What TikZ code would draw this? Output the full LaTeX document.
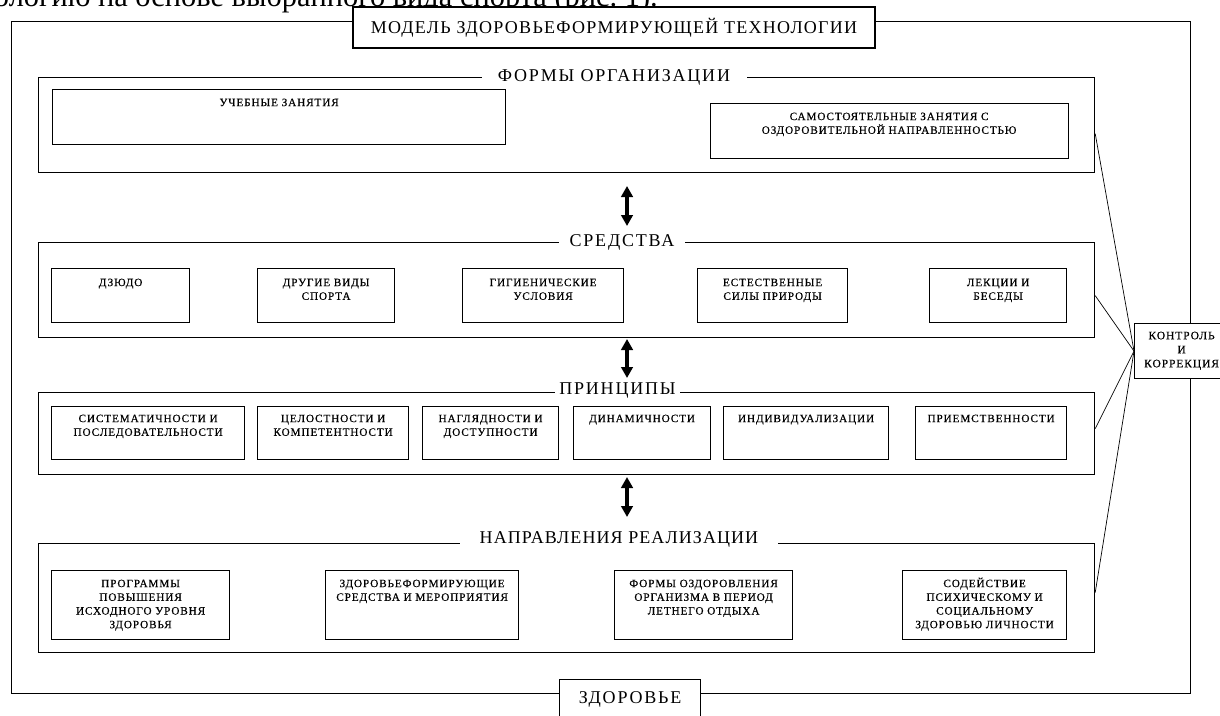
\documentclass[tikz,border=0pt]{standalone}
\usepackage{fontspec}
\setmainfont{Liberation Serif}
\newfontfamily\lsfont{Liberation Serif}[LetterSpace=8,FakeBold=0.4]
\newfontfamily\hsfont{Liberation Serif}[LetterSpace=10]
\newfontfamily\tsfont{Liberation Serif}[LetterSpace=7]
\newfontfamily\nsfont{Liberation Serif}[LetterSpace=6]
\usetikzlibrary{arrows.meta,calc}
\newcommand\boxfont{\lsfont\fontsize{11.2}{13.7}\selectfont}
\newcommand\hdrfont{\hsfont\fontsize{18}{20}\selectfont}
\newcommand\tb[4]{\parbox[c][#2pt][t]{#1pt}{\vspace*{#3pt}\centering\rule{0pt}{10pt}#4\par}}
\tikzset{
  every node/.style={inner sep=0pt},
  frame/.style={draw, line width=1.2pt, anchor=north west},
  ibox/.style={draw, line width=1.2pt, fill=white, anchor=north west, font=\boxfont},
  hdr/.style={fill=white, font=\hdrfont, inner sep=0pt, minimum height=16pt},
  conn/.style={line width=0.7pt},
  dbl/.style={line width=3.5pt, {Triangle[length=11pt,width=11.5pt]}-{Triangle[length=11pt,width=11.5pt]}},
}
\begin{document}
\begin{tikzpicture}[x={(1pt,0pt)}, y={(0pt,-1pt)}]
\useasboundingbox (0,0) rectangle (1220,715);
\clip (0,0) rectangle (1220,715);

% cut-off text line at the top
\node[anchor=base east, font=\fontsize{30.4}{34}\selectfont] (cuttext) at (658,6) {технологию на основе выбранного вида спорта (рис.~1).};

% outer frame
\node[frame, minimum width=1179.5pt, minimum height=672pt] (outer) at (10.5,21) {};
\node[draw, line width=1.2pt, fill=white, minimum width=522pt, minimum height=41pt, font=\tsfont\fontsize{18}{20}\selectfont] (title) at (614,27.5) {МОДЕЛЬ ЗДОРОВЬЕФОРМИРУЮЩЕЙ ТЕХНОЛОГИИ};
\node[ibox, font=\hdrfont] (zdorovie) at (559,679) {\tb{141}{60}{12}{ЗДОРОВЬЕ}};
\node[ibox, font=\lsfont\fontsize{11.5}{14}\selectfont] (kontrol) at (1134,323) {\tb{94}{55}{5.7}{КОНТРОЛЬ\\И\\КОРРЕКЦИЯ}};

% group frames
\node[frame, minimum width=1056pt, minimum height=95pt] (forms) at (38,77) {};
\node[frame, minimum width=1056pt, minimum height=95pt] (sred) at (38,242) {};
\node[frame, minimum width=1056pt, minimum height=82pt] (princ) at (38,392) {};
\node[frame, minimum width=1056pt, minimum height=109pt] (napr) at (38,543) {};

\node[hdr, minimum width=265pt] (formsH) at (614,77) {ФОРМЫ ОРГАНИЗАЦИИ};
\node[hdr, minimum width=126pt] (sredH) at (622,242) {СРЕДСТВА};
\node[hdr, minimum width=125pt] (princH) at (617.5,391) {ПРИНЦИПЫ};
\node[hdr, minimum width=318pt, font=\nsfont\fontsize{18}{20}\selectfont] (naprH) at (619,539) {НАПРАВЛЕНИЯ РЕАЛИЗАЦИИ};

% forms
\node[ibox] (ucheb) at (52,89) {\tb{453}{55}{6.5}{УЧЕБНЫЕ ЗАНЯТИЯ}};
\node[ibox] (samost) at (709.5,103) {\tb{358}{55}{6.5}{САМОСТОЯТЕЛЬНЫЕ ЗАНЯТИЯ С\\ОЗДОРОВИТЕЛЬНОЙ НАПРАВЛЕННОСТЬЮ}};

% means
\node[ibox] (dzudo) at (51,268) {\tb{138}{54}{7.5}{ДЗЮДО}};
\node[ibox] (drugie) at (257,268) {\tb{137}{54}{7.5}{ДРУГИЕ ВИДЫ\\СПОРТА}};
\node[ibox] (gigien) at (462,268) {\tb{161}{54}{7.5}{ГИГИЕНИЧЕСКИЕ\\УСЛОВИЯ}};
\node[ibox] (estestv) at (697,268) {\tb{150}{54}{7.5}{ЕСТЕСТВЕННЫЕ\\СИЛЫ ПРИРОДЫ}};
\node[ibox] (lekcii) at (929,268) {\tb{137}{54}{7.5}{ЛЕКЦИИ И\\БЕСЕДЫ}};

% principles
\node[ibox] (sist) at (51,406) {\tb{193}{53}{5.5}{СИСТЕМАТИЧНОСТИ И\\ПОСЛЕДОВАТЕЛЬНОСТИ}};
\node[ibox] (cel) at (257,406) {\tb{151}{53}{5.5}{ЦЕЛОСТНОСТИ И\\КОМПЕТЕНТНОСТИ}};
\node[ibox] (nagl) at (422,406) {\tb{136}{53}{5.5}{НАГЛЯДНОСТИ И\\ДОСТУПНОСТИ}};
\node[ibox] (din) at (573,406) {\tb{137}{53}{5.5}{ДИНАМИЧНОСТИ}};
\node[ibox] (ind) at (723,406) {\tb{165}{53}{5.5}{ИНДИВИДУАЛИЗАЦИИ}};
\node[ibox] (priem) at (915,406) {\tb{151}{53}{5.5}{ПРИЕМСТВЕННОСТИ}};

% directions
\node[ibox] (progr) at (51,570) {\tb{178}{69}{6.5}{ПРОГРАММЫ\\ПОВЫШЕНИЯ\\ИСХОДНОГО УРОВНЯ\\ЗДОРОВЬЯ}};
\node[ibox] (zdor) at (325,570) {\tb{193}{69}{6.5}{ЗДОРОВЬЕФОРМИРУЮЩИЕ\\СРЕДСТВА И МЕРОПРИЯТИЯ}};
\node[ibox] (ozdor) at (614,570) {\tb{178}{69}{6.5}{ФОРМЫ ОЗДОРОВЛЕНИЯ\\ОРГАНИЗМА В ПЕРИОД\\ЛЕТНЕГО ОТДЫХА}};
\node[ibox] (sodei) at (902,570) {\tb{164}{69}{6.5}{СОДЕЙСТВИЕ\\ПСИХИЧЕСКОМУ И\\СОЦИАЛЬНОМУ\\ЗДОРОВЬЮ ЛИЧНОСТИ}};

% double arrows
\coordinate (a1t) at (627,186); \coordinate (a1b) at (627,226);
\coordinate (a2t) at (627,339); \coordinate (a2b) at (627,378);
\coordinate (a3t) at (627,477); \coordinate (a3b) at (627,517);
\draw[dbl] (a1t) -- (a1b);
\draw[dbl] (a2t) -- (a2b);
\draw[dbl] (a3t) -- (a3b);

% connectors to control
\draw[conn] ($(forms.east)+(0,8.5)$) -- (kontrol.west);
\draw[conn] ($(sred.east)+(0,5.5)$) -- (kontrol.west);
\draw[conn] ($(princ.east)+(0,-5)$) -- (kontrol.west);
\draw[conn] ($(napr.east)+(0,-5.5)$) -- (kontrol.west);
\end{tikzpicture}
\end{document}
